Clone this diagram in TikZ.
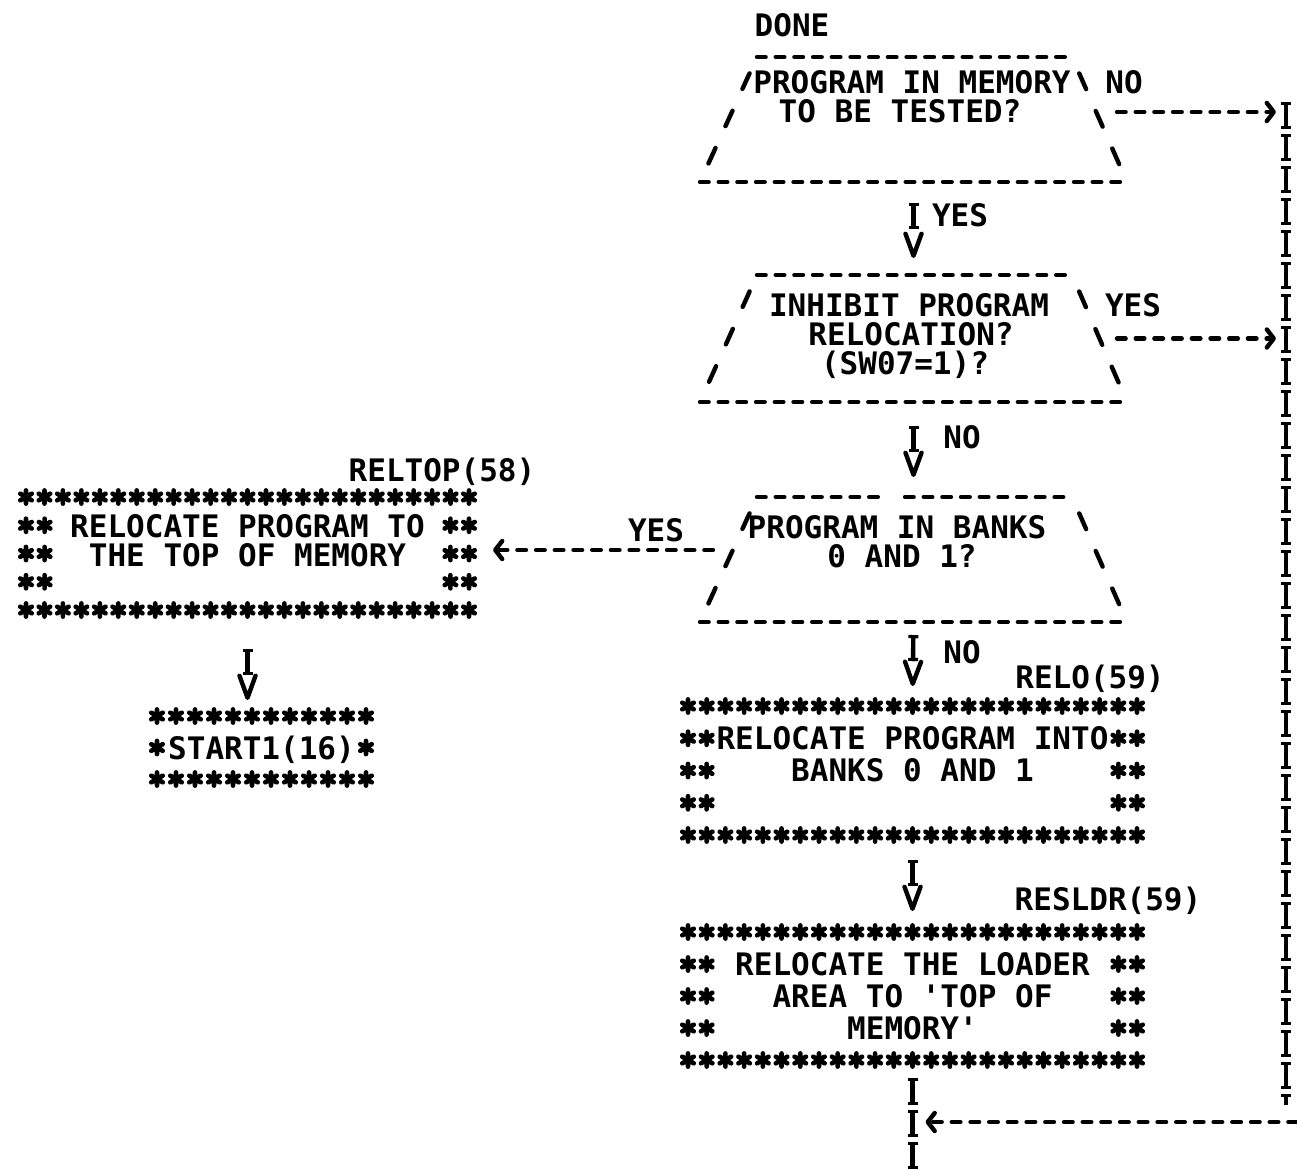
\documentclass[tikz,border=0pt]{standalone}
\usepackage{fontspec}
\setmonofont{DejaVu Sans Mono}
\usetikzlibrary{calc,arrows.meta}

\tikzset{
  ink/.style={line width=2.2pt},
  dashrow/.style={ink, line cap=round, dash pattern=on 4.3pt off 5.05pt},
  slantrow/.style={ink, line cap=round, dash pattern=on 8.5pt off 12pt, shorten <=9pt, shorten >=9pt},
  ishort/.style={ink, dash pattern=on 13pt off 40pt,
    postaction={draw, -, line width=5pt, dash pattern=on 1.6pt off 9.8pt on 1.6pt off 40pt}},
  ichain/.style={ink, dash pattern=on 13.5pt off 2.5pt,
    postaction={draw, -, line width=5pt, dash pattern=on 1.6pt off 10.3pt on 1.6pt off 2.5pt}},
  vtip/.style={-{Straight Barb[length=11pt,width=8pt,round]}},
  ptip/.style={-{Straight Barb[length=3.5pt,width=9pt,round]}},
  txt/.style={font=\ttfamily\bfseries\fontsize{15.5pt}{16pt}\selectfont, inner sep=0pt, text height=11.3pt, text depth=0pt},
  frame/.style={rectangle, inner sep=0pt, outer sep=0pt},
  starmark/.pic={\draw[line width=2.3pt, line cap=round] (90:3.3pt) -- (270:3.3pt) (30:3.3pt) -- (210:3.3pt) (150:3.3pt) -- (330:3.3pt);}
}

\begin{document}
\begin{tikzpicture}[x=0.5pt, y=-0.5pt, line join=round]
  \useasboundingbox (0,0) rectangle (1297,1169);

  % 1. Frames of the three decisions and of the four boxes
  \node[frame, minimum width=213.5pt, minimum height=62.5pt] (d1) at (913.5,119.5) {};
  \node[frame, minimum width=213.5pt, minimum height=63.5pt] (d2) at (913.5,338.5) {};
  \node[frame, minimum width=213.5pt, minimum height=62.5pt] (d3) at (913.5,559.5) {};
  \node[frame, minimum width=221.5pt, minimum height=56.5pt] (reltop) at (247.5,553.5) {};
  \node[frame, minimum width=104.5pt, minimum height=31.5pt] (start1) at (261.5,747.5) {};
  \node[frame, minimum width=224.5pt, minimum height=64.5pt] (relo) at (912.5,770.5) {};
  \node[frame, minimum width=224.5pt, minimum height=64pt] (resldr) at (912.5,996) {};

  % 2. Decisions: rows of dashes, slanted sides
  \foreach \dd in {d1,d2,d3} {
    \draw[slantrow] ([xshift=28.5pt]\dd.north west) -- (\dd.south west);
    \draw[slantrow] ([xshift=-27.5pt]\dd.north east) -- (\dd.south east);
    \draw[dashrow] (\dd.south west) -- (\dd.south east);
  }
  \draw[dashrow] ([xshift=28.5pt]d1.north west) -- ([xshift=-27.5pt]d1.north east);
  \draw[dashrow] ([xshift=28.5pt]d2.north west) -- ([xshift=-27.5pt]d2.north east);
  \draw[dashrow] ([xshift=28.5pt]d3.north west) -- ([xshift=93pt]d3.north west);
  \draw[dashrow] ([xshift=102.5pt]d3.north west) -- ([xshift=-27.5pt]d3.north east);

  % 3. Boxes: borders of asterisks
  \foreach \bx/\nx/\ny/\nk in {reltop/24/4/2, relo/24/4/2, resldr/24/4/2, start1/11/2/1} {
    \foreach \ix in {0,...,\nx} {
      \pic at ($(\bx.north west)!{\ix/\nx}!(\bx.north east)$) {starmark};
      \pic at ($(\bx.south west)!{\ix/\nx}!(\bx.south east)$) {starmark};
    }
    \pgfmathtruncatemacro\nrows{\ny-1}
    \foreach \jy in {1,...,\nrows} \foreach \col in {1,...,\nk} {
      \pic at ($(\bx.north west)!{\jy/\ny}!(\bx.south west)+({(\col-1)*18.6},0)$) {starmark};
      \pic at ($(\bx.north east)!{\jy/\ny}!(\bx.south east)-({(\col-1)*18.6},0)$) {starmark};
    }
  }

  % 4. Texts
  \node[txt] (done) at (792,25) {DONE};
  \node[txt] (d1a) at (912,82) {PROGRAM IN MEMORY};
  \node[txt] (d1b) at (900,111) {TO BE TESTED?};
  \node[txt] (d1no) at (1124,82) {NO};
  \node[txt] (d1yes) at (960,215) {YES};
  \node[txt] (d2a) at (909,305) {INHIBIT PROGRAM};
  \node[txt] (d2b) at (911,334) {RELOCATION?};
  \node[txt] (d2c) at (905,363) {(SW07=1)?};
  \node[txt] (d2yes) at (1133,305) {YES};
  \node[txt] (d2no) at (962,437) {NO};
  \node[txt] (reltoplbl) at (442,470) {RELTOP(58)};
  \node[txt] (d3a) at (897,527) {PROGRAM IN BANKS};
  \node[txt] (d3b) at (902,556) {0 AND 1?};
  \node[txt] (d3yes) at (656,530) {YES};
  \node[txt] (d3no) at (962,652) {NO};
  \node[txt] (relolbl) at (1090,677) {RELO(59)};
  \node[txt] (resldrlbl) at (1108,899) {RESLDR(59)};
  \node[txt] (reltopa) at (247.5,526) {RELOCATE PROGRAM TO};
  \node[txt] (reltopb) at (247.5,555) {THE TOP OF MEMORY};
  \node[txt] (start1a) at (261.5,748) {START1(16)};
  \node[txt] (reloa) at (912.5,738) {RELOCATE PROGRAM INTO};
  \node[txt] (relob) at (912.5,770) {BANKS 0 AND 1};
  \node[txt] (resldra) at (912.5,964) {RELOCATE THE LOADER};
  \node[txt] (resldrb) at (912.5,996) {AREA TO 'TOP OF};
  \node[txt] (resldrc) at (912.5,1028) {MEMORY'};

  % 5. Flow lines: columns of I ending in V, rows of dashes
  \coordinate (looptop) at (1286,102);
  \coordinate (loopbot) at (1286,1105);
  \coordinate (loopback) at (1297,1122);
  \coordinate (exit) at (912.5,1169);
  \coordinate (d1out) at ([yshift=3.75pt]d1.east);
  \coordinate (d3out) at ([yshift=4.75pt]d3.west);

  \draw[ishort, vtip, shorten <=10.5pt, shorten >=8.5pt] (d1.south) -- (d2.north);
  \draw[ishort, vtip, shorten <=12pt, shorten >=10pt] (d2.south) -- (d3.north);
  \draw[ishort, vtip, shorten <=6.5pt, shorten >=10pt] (d3.south) -- (relo.north);
  \draw[ishort, vtip, shorten <=12.5pt, shorten >=10.5pt] (relo.south) -- (resldr.north);
  \draw[ishort, vtip, shorten <=19.5pt, shorten >=8pt] (reltop.south) -- (reltop.south |- start1.north);
  \draw[ichain, shorten <=9pt] (resldr.south) -- (exit);
  \draw[ichain] (looptop) -- (loopbot);

  \draw[dashrow, ptip, shorten <=-5pt, shorten >=5pt] (d1out) -- (d1out -| looptop);
  \draw[dashrow, ptip, shorten <=-5pt, shorten >=5pt] (d2.east) -- (d2.east -| looptop);
  \draw[dashrow, ptip, shorten <=-6.5pt, shorten >=12pt] (d3out) -- (d3out -| reltop.east);
  \draw[dashrow, ptip, shorten >=6.5pt] (loopback) -- (loopback -| exit);
\end{tikzpicture}
\end{document}
